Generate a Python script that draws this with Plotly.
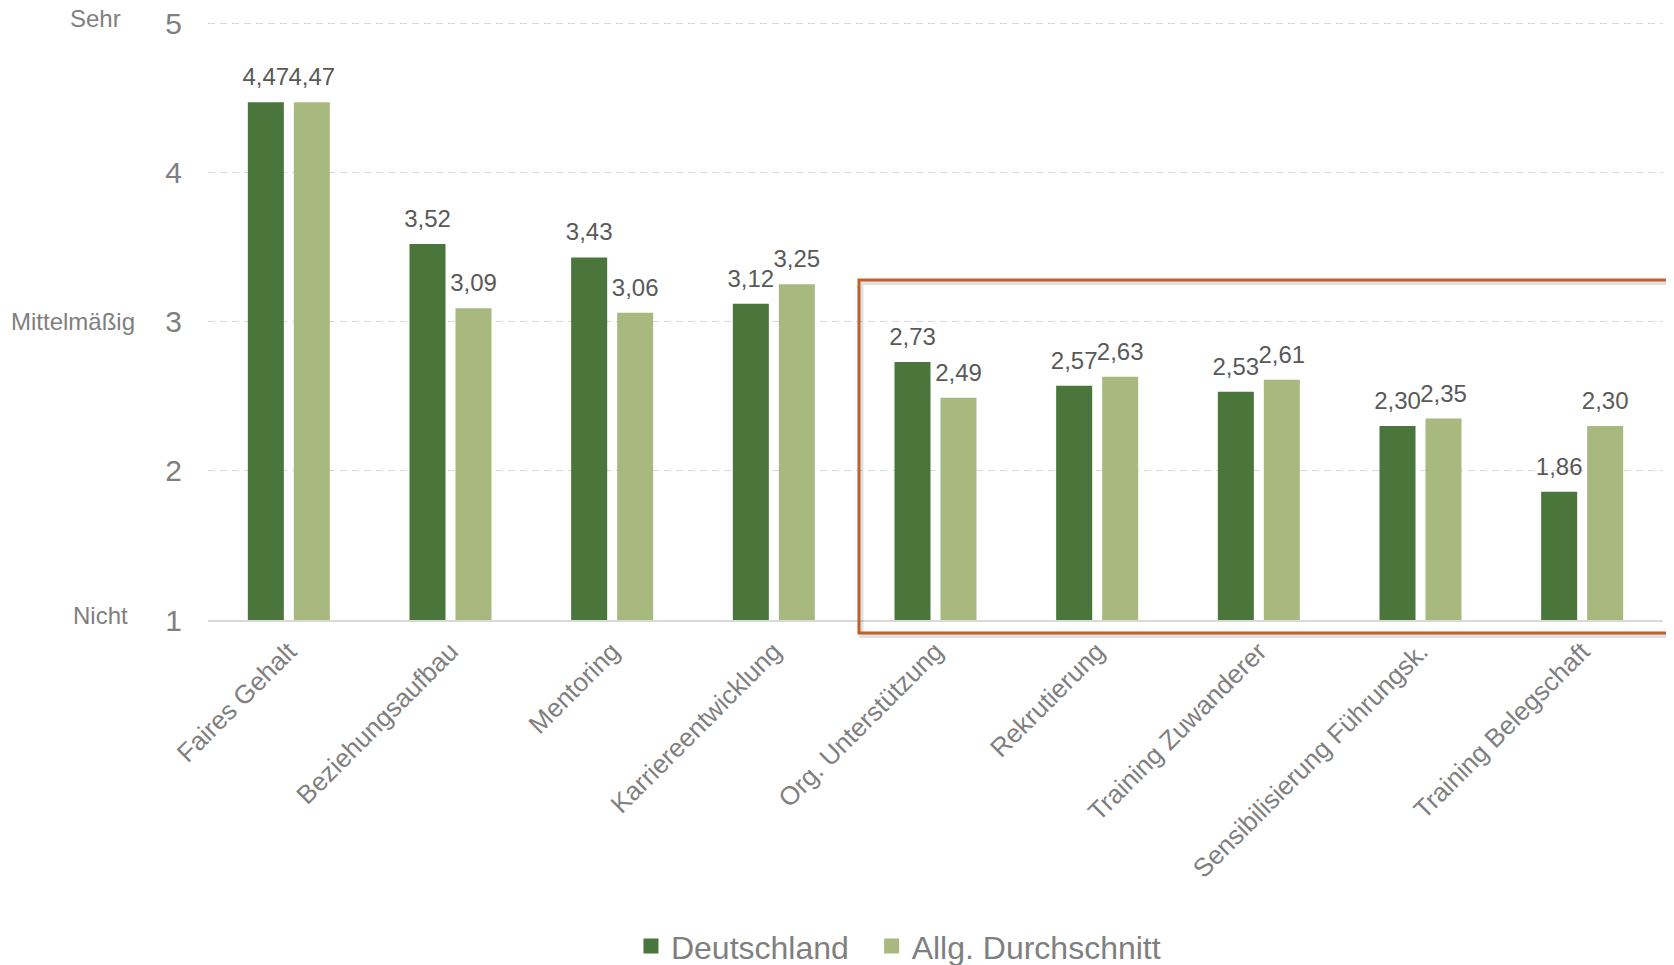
import plotly.graph_objects as go

categories = ["Faires Gehalt", "Beziehungsaufbau", "Mentoring", "Karriereentwicklung",
              "Org. Unterstützung", "Rekrutierung", "Training Zuwanderer",
              "Sensibilisierung Führungsk.", "Training Belegschaft"]
deutschland = [4.47, 3.52, 3.43, 3.12, 2.73, 2.57, 2.53, 2.30, 1.86]
durchschnitt = [4.47, 3.09, 3.06, 3.25, 2.49, 2.63, 2.61, 2.35, 2.30]
series_names = ["Deutschland", "Allg. Durchschnitt"]
colors = ["#4A763B", "#A8B97F"]

y_tickvals = [1, 2, 3, 4, 5]
scale_labels = [("Sehr", 5.0, 5, -85), ("Mittelmäßig", 3.0, 0, -71), ("Nicht", 1.03, 0, -78)]

FONT = "Liberation Sans, Arial, sans-serif"
BARGAP = 0.431

fig = go.Figure()
for name, vals, col, grp in zip(series_names, [deutschland, durchschnitt], colors, ["a", "b"]):
    fig.add_trace(go.Bar(
        x=categories, y=vals, name=name, marker_color=col, marker_line_width=0,
        offsetgroup=grp, hoverinfo="skip", showlegend=False))
for vals, grp in zip([deutschland, durchschnitt], ["a", "b"]):
    fig.add_trace(go.Scatter(
        x=categories, y=vals, mode="markers+text", offsetgroup=grp,
        text=[f"{v:.2f}".replace(".", ",") for v in vals],
        textposition="top center",
        textfont=dict(family=FONT, size=24, color="#595959"),
        marker=dict(size=16, color="rgba(0,0,0,0)"),
        showlegend=False, hoverinfo="skip", cliponaxis=False))
# legend entries (square swatches)
legend_names = [series_names[0] + "\u00a0\u00a0", series_names[1]]
for name, col in zip(legend_names, colors):
    fig.add_trace(go.Scatter(
        x=[None], y=[None], mode="markers", name=name,
        marker=dict(symbol="square", size=15, color=col), hoverinfo="skip"))

annotations = []
for txt, yv, ys, xs in scale_labels:
    annotations.append(dict(text=txt, x=0, xref="paper", y=yv, yref="y",
                            xanchor="right", yanchor="middle", xshift=xs, yshift=ys,
                            showarrow=False,
                            font=dict(family=FONT, size=24, color="#7F7F7F")))

# highlight box (paper coords) and its soft shadow
box = dict(x0=0.4474, x1=1.012, y0=-0.0218, y1=0.5678)
sx, sy = 2.5 / 1455, 3.0 / 599
fig.update_layout(
    width=1666, height=957,
    margin=dict(l=200, r=11, t=13, b=345, autoexpand=False),
    plot_bgcolor="white", paper_bgcolor="white",
    barmode="group", bargap=BARGAP, bargroupgap=0.217,
    scattermode="group", scattergap=BARGAP,
    annotations=annotations,
    legend=dict(orientation="h", x=0.2907, xanchor="left", y=-0.5447, yanchor="middle",
                font=dict(family=FONT, size=32, color="#7F7F7F"), itemwidth=30,
                itemsizing="trace", bgcolor="rgba(0,0,0,0)"),
    shapes=[
        dict(type="rect", xref="paper", yref="paper",
             x0=box["x0"] + sx, x1=box["x1"] + sx, y0=box["y0"] - sy, y1=box["y1"] - sy,
             line=dict(color="rgba(0,0,0,0.12)", width=4), layer="above"),
        dict(type="rect", xref="paper", yref="paper", **box,
             line=dict(color="#BF6129", width=3), layer="above"),
    ],
)
fig.update_yaxes(range=[1, 5.015], tickvals=y_tickvals, showgrid=True, gridcolor="#D9D9D9",
                 griddash="7px,5px", gridwidth=1, zeroline=False, showline=False,
                 ticks="", ticklabelstandoff=25, automargin=False,
                 ticklabeloverflow="allow",
                 tickfont=dict(family=FONT, size=30, color="#7F7F7F"))
fig.update_xaxes(showline=True, linecolor="#D9D9D9", linewidth=2, ticks="",
                 tickangle=-45, tickfont=dict(family=FONT, size=26, color="#7F7F7F"),
                 ticklabelstandoff=4, automargin=False, ticklabeloverflow="allow")

fig.write_html("out.html")
